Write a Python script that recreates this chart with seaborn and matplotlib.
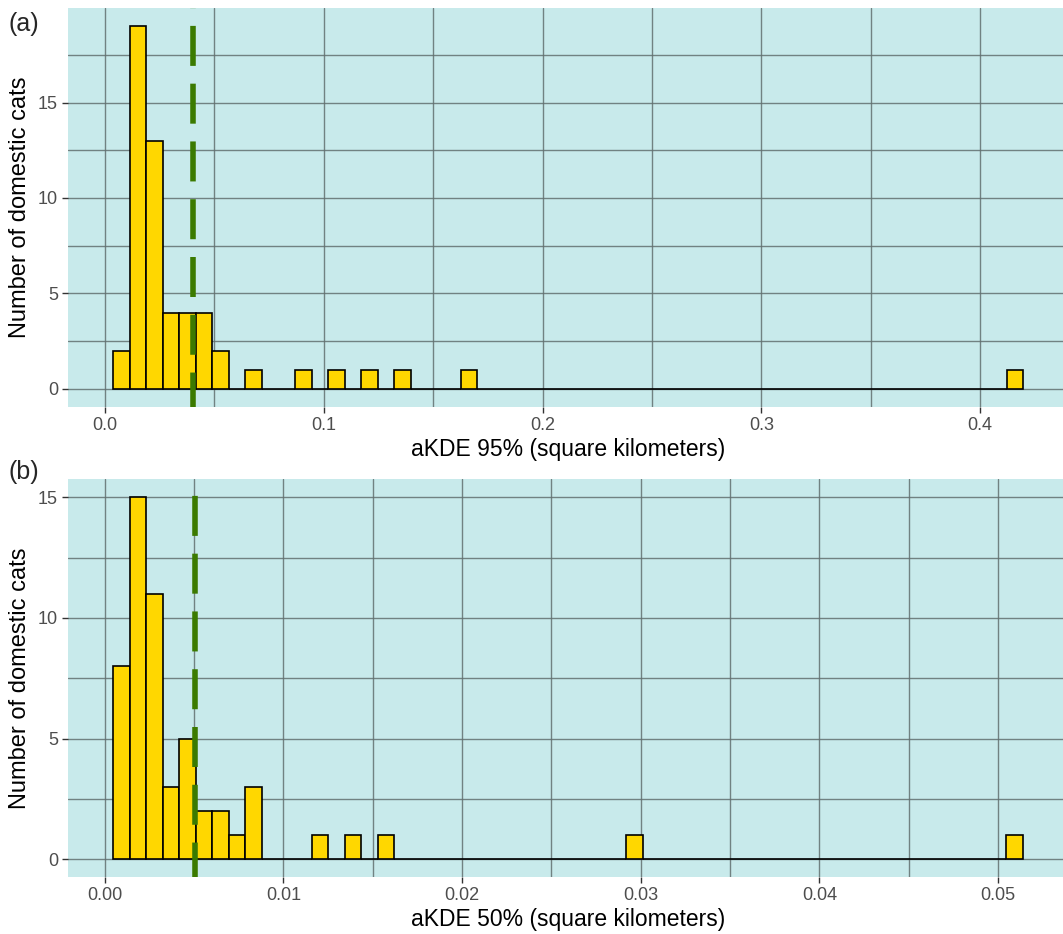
"""Home range histograms of domestic cats (aKDE 95% and 50%)."""

import matplotlib

matplotlib.use("Agg")

import matplotlib.pyplot as plt
import numpy as np
import seaborn as sns
from matplotlib.ticker import MultipleLocator, FormatStrFormatter

# panel (a): aKDE 95% -- occupied bin centres and their counts
akde95_values = [0.0075, 0.0150, 0.0226, 0.0301, 0.0377, 0.0453, 0.0528,
                 0.0680, 0.0906, 0.1057, 0.1209, 0.1360, 0.1662, 0.4157]
akde95_counts = [2, 19, 13, 4, 4, 4, 2, 1, 1, 1, 1, 1, 1, 1]
akde95_range = (0.00367, 0.4196)
akde95_mean = 0.0404

# panel (b): aKDE 50%
akde50_values = [0.00093, 0.00186, 0.00278, 0.00371, 0.00463, 0.00556, 0.00649,
                 0.00741, 0.00834, 0.01204, 0.01389, 0.01575, 0.02964, 0.05093]
akde50_counts = [8, 15, 11, 3, 5, 2, 2, 1, 3, 1, 1, 1, 1, 1]
akde50_range = (0.000467, 0.0514)
akde50_mean = 0.00504

n_bins = 55

PANEL_BG = "#C8EAEB"
GRID = "#627070"
FILL = "#FFD700"
VLINE = "#3B7A00"

sns.set_theme(style="white")
plt.rcParams["font.family"] = ["Liberation Sans", "DejaVu Sans"]

W, H = 1063, 934
fig = plt.figure(figsize=(W / 100, H / 100), dpi=100)


def px_axes(left, top, right, bottom):
    return fig.add_axes([left / W, 1 - bottom / H, (right - left) / W, (bottom - top) / H])


def draw_panel(ax, values, counts, binrange, mean, xlim, ylim, xmajor, xfmt, xlabel):
    ax.set_facecolor(PANEL_BG)
    sns.histplot(x=values, weights=counts, bins=n_bins, binrange=binrange,
                 color=FILL, edgecolor="black", linewidth=1.2, alpha=1, ax=ax)
    ax.axvline(mean, color=VLINE, linewidth=4, linestyle=(1, (7.2, 3.2)), zorder=3)
    ax.set_xlim(*xlim)
    ax.set_ylim(*ylim)
    ax.xaxis.set_major_locator(MultipleLocator(xmajor))
    ax.xaxis.set_minor_locator(MultipleLocator(xmajor / 2))
    ax.xaxis.set_major_formatter(FormatStrFormatter(xfmt))
    ax.yaxis.set_major_locator(MultipleLocator(5))
    ax.yaxis.set_minor_locator(MultipleLocator(2.5))
    ax.grid(True, which="both", color=GRID, linewidth=1.0, alpha=0.85)
    ax.set_axisbelow(True)
    for s in ax.spines.values():
        s.set_visible(False)
    ax.tick_params(which="major", length=4, width=1, color="#333333",
                   labelcolor="#4D4D4D", labelsize=13, pad=3,
                   bottom=True, left=True)
    ax.tick_params(which="minor", length=0)
    ax.set_xlabel(xlabel, fontsize=16.5, color="black", labelpad=3)
    ax.set_ylabel("Number of domestic cats", fontsize=17, color="black", labelpad=5)


ax_a = px_axes(67.6, 8, 1068.6, 407)
draw_panel(ax_a, akde95_values, akde95_counts, akde95_range, akde95_mean,
           (-0.0171, 0.4404), (-0.95, 19.95), 0.1, "%.1f",
           "aKDE 95% (square kilometers)")

ax_b = px_axes(67.6, 479.3, 1068.6, 877.3)
draw_panel(ax_b, akde50_values, akde50_counts, akde50_range, akde50_mean,
           (-0.00208, 0.05395), (-0.75, 15.75), 0.01, "%.2f",
           "aKDE 50% (square kilometers)")

fig.text(9 / W, 1 - 24 / H, "(a)", fontsize=18, va="center", ha="left")
fig.text(9 / W, 1 - 472 / H, "(b)", fontsize=18, va="center", ha="left")

fig.savefig("out.png", dpi=100)
